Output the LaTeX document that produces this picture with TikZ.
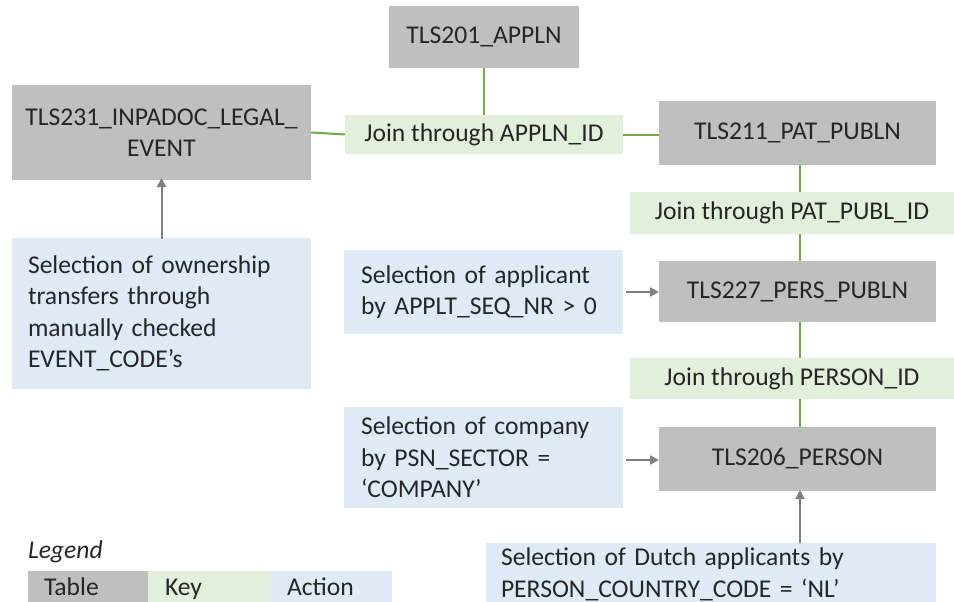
\documentclass[tikz,border=0pt]{standalone}
\usepackage{fontspec}
\setmainfont{Carlito}
\usetikzlibrary{arrows.meta}
\definecolor{tblgray}{HTML}{BFBFBF}
\definecolor{keygreen}{HTML}{E2EFDA}
\definecolor{actblue}{HTML}{DEEBF7}
\definecolor{lnkgreen}{HTML}{70AD47}
\definecolor{arrgray}{HTML}{7F7F7F}
\definecolor{txt}{HTML}{262626}
\begin{document}
\begin{tikzpicture}[x=1pt,y=-1pt,
  every node/.style={text=txt,font=\fontsize{25.6}{31.5}\selectfont,inner sep=0pt,outer sep=0pt},
  tbl/.style={fill=tblgray,rectangle,align=center},
  keybox/.style={fill=keygreen,rectangle,align=center},
  act/.style={fill=actblue,rectangle,align=left},
  lnk/.style={draw=lnkgreen,line width=2pt},
  arr/.style={draw=arrgray,line width=2pt,-{Triangle[length=9pt,width=9pt]}}]
\useasboundingbox (0,0) rectangle (954,602);
% tables
\node[tbl,minimum width=190pt,minimum height=62pt] (t201) at (484,37) {TLS201\_APPLN};
\node[tbl,minimum width=299pt,minimum height=95pt] (t231) at (161.5,132.5) {TLS231\_INPADOC\_LEGAL\_\\EVENT};
\node[tbl,minimum width=277pt,minimum height=64pt] (t211) at (797.5,133) {TLS211\_PAT\_PUBLN};
\node[tbl,minimum width=277pt,minimum height=61pt] (t227) at (797.5,291.5) {TLS227\_PERS\_PUBLN};
\node[tbl,minimum width=277pt,minimum height=64pt] (t206) at (797.5,459) {TLS206\_PERSON};
% keys
\node[keybox,minimum width=278pt,minimum height=39pt] (k1) at (484,134.5) {Join through APPLN\_ID};
\node[keybox,minimum width=324pt,minimum height=42pt] (k2) at (792,213) {Join through PAT\_PUBL\_ID};
\node[keybox,minimum width=324pt,minimum height=41pt] (k3) at (792,378.5) {Join through PERSON\_ID};
% actions
\node[act,minimum width=299pt,minimum height=151pt,text width=267pt] (a1) at (161.5,313.5) {Selection of ownership\\transfers through\\manually checked\\EVENT\_CODE’s};
\node[act,minimum width=279pt,minimum height=84pt,text width=245pt] (a2) at (483.5,292) {Selection of applicant\\by APPLT\_SEQ\_NR > 0};
\node[act,minimum width=279pt,minimum height=101pt,text width=245pt] (a3) at (483.5,457.5) {Selection of company\\by PSN\_SECTOR =\\‘COMPANY’};
\node[act,minimum width=450pt,minimum height=64pt,text width=420pt] (a4) at (711,574.5) {Selection of Dutch applicants by\\PERSON\_COUNTRY\_CODE = ‘NL’};
% connectors
\draw[lnk] (t201.south) -- (k1.north);
\draw[lnk] (t231.east) -- (k1.west);
\draw[lnk] (k1.east) -- (k1.east -| t211.west);
\draw[lnk] (t211.south -| 800,0) -- (k2.north -| 800,0);
\draw[lnk] (k2.south -| 800,0) -- (t227.north -| 800,0);
\draw[lnk] (t227.south -| 800,0) -- (k3.north -| 800,0);
\draw[lnk] (k3.south -| 800,0) -- (t206.north -| 800,0);
\draw[arr] ([yshift=-1pt]a1.north) -- ([yshift=2pt]t231.south);
\draw[arr] ([xshift=3pt]a2.east) -- (a2.east -| t227.west);
\draw[arr] ([xshift=3pt]a3.east |- 0,460) -- (t206.west |- 0,460);
\draw[arr] (a4.north -| 800,0) -- ([yshift=1pt]t206.south -| 800,0);
% legend
\node[anchor=base west,font=\fontsize{25.6}{31.5}\selectfont\itshape] (lg) at (28,558) {Legend};
\node[tbl,minimum width=120pt,minimum height=31pt,anchor=north west] (l1) at (28,571) {};
\node[keybox,minimum width=122pt,minimum height=31pt,anchor=north west] (l2) at (148,571) {};
\node[act,minimum width=122pt,minimum height=31pt,anchor=north west] (l3) at (270,571) {};
\node[anchor=base west] at ([xshift=16pt,yshift=-9pt]l1.west) {Table};
\node[anchor=base west] at ([xshift=17pt,yshift=-9pt]l2.west) {Key};
\node[anchor=base west] at ([xshift=17pt,yshift=-9pt]l3.west) {Action};
\end{tikzpicture}
\end{document}
